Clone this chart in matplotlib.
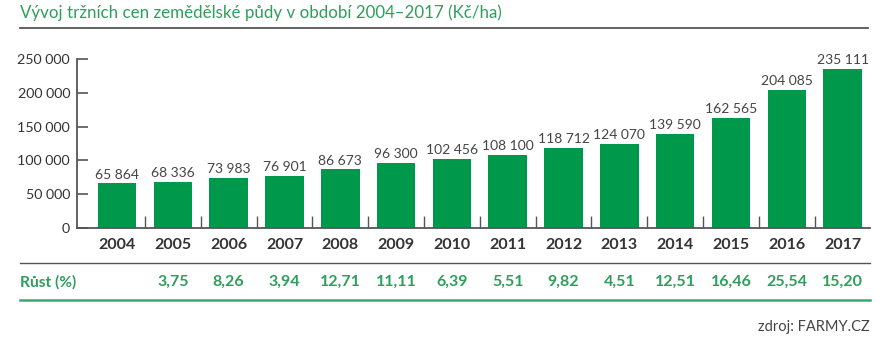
import matplotlib
matplotlib.use("Agg")
import matplotlib.pyplot as plt
from matplotlib.lines import Line2D
import matplotlib.transforms as mtransforms
import numpy as np

# data
years = ["2004", "2005", "2006", "2007", "2008", "2009", "2010",
         "2011", "2012", "2013", "2014", "2015", "2016", "2017"]
prices = [65864, 68336, 73983, 76901, 86673, 96300, 102456,
          108100, 118712, 124070, 139590, 162565, 204085, 235111]
growth = ["", "3,75", "8,26", "3,94", "12,71", "11,11", "6,39",
          "5,51", "9,82", "4,51", "12,51", "16,46", "25,54", "15,20"]
yticks = [0, 50000, 100000, 150000, 200000, 250000]

title = "Vývoj tržních cen zemědělské půdy v období 2004–2017 (Kč/ha)"
source = "zdroj: FARMY.CZ"

BAR = "#00984a"
GREEN_TXT = "#2f9e5c"
DARK = "#333333"
GRAY = "#555555"

plt.rcParams['font.family'] = ['Lato', 'DejaVu Sans']

W, H = 882, 346
fig = plt.figure(figsize=(W / 100, H / 100), dpi=100)
fig.patch.set_facecolor("white")

# axes placed in pixel coords
ax_left, ax_right = 77, 870
ax_top, ax_bottom = 59, 228
ax = fig.add_axes([ax_left / W, 1 - ax_bottom / H,
                   (ax_right - ax_left) / W, (ax_bottom - ax_top) / H])

x = np.arange(len(years))
ax.bar(x, prices, width=0.69, color=BAR, zorder=2)

for xi, v in zip(x, prices):
    lab = f"{v:,}".replace(",", " ")
    ax.text(xi, v + 4000, lab, ha="center", va="bottom", fontsize=10,
            color="#444444", clip_on=False)

ax.set_xlim(-0.717, 13.49)
ax.set_ylim(0, 250000)
ax.set_yticks(yticks)
ax.set_yticklabels([f"{t:,}".replace(",", " ") for t in yticks],
                   fontsize=10.3, color=DARK)
ax.set_xticks(x)
ax.set_xticklabels(years, fontsize=11.5, fontweight="bold", color=DARK)
ax.set_xticks(x[:-1] + 0.5, minor=True)

ax.tick_params(axis="y", direction="in", length=8, width=1.2, color=GRAY, pad=5)
ax.tick_params(axis="x", which="major", length=0, pad=7)
ax.tick_params(axis="x", which="minor", direction="in", length=9, width=1.0, color=GRAY)

for s in ["top", "right"]:
    ax.spines[s].set_visible(False)
for s in ["left", "bottom"]:
    ax.spines[s].set_color(GRAY)
    ax.spines[s].set_linewidth(1.3)

# title and horizontal rules
fig.text(20 / W, 1 - 13 / H, title, ha="left", va="center",
         fontsize=12.2, color=GREEN_TXT)
fig.add_artist(Line2D([20 / W, 868 / W], [1 - 28 / H] * 2, color=GRAY, lw=1.3))
fig.add_artist(Line2D([20 / W, 870 / W], [1 - 263 / H] * 2, color=GRAY, lw=1.0))
fig.add_artist(Line2D([20 / W, 870 / W], [1 - 300 / H] * 2, color="#3aa873", lw=1.8))

# growth row
trans = mtransforms.blended_transform_factory(ax.transData, fig.transFigure)
fig.text(20 / W, 1 - 282 / H, "Růst (%)", ha="left", va="center",
         fontsize=11.2, fontweight="bold", color=GREEN_TXT)
for xi, g in zip(x, growth):
    ax.text(xi, 1 - 282 / H, g, transform=trans, ha="center", va="center",
            fontsize=11.5, fontweight="bold", color=GREEN_TXT, clip_on=False)

fig.text(870 / W, 1 - 327 / H, source, ha="right", va="center",
         fontsize=10.5, color="#444444")

fig.savefig("out.png", dpi=100, facecolor="white")
